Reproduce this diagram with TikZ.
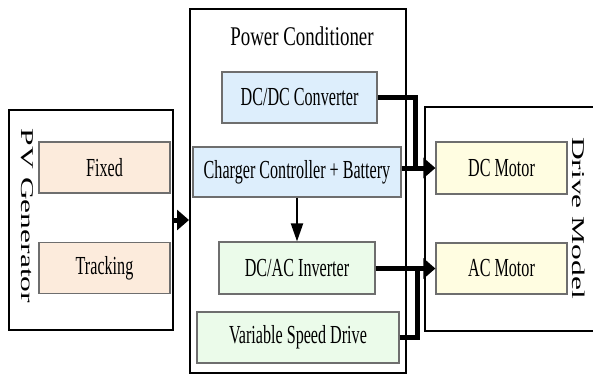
\documentclass[tikz,border=0pt]{standalone}
\usepackage{fontspec}
\setmainfont{Liberation Serif}
\newfontfamily\boxfont[FakeStretch=0.62]{Liberation Serif}
\newfontfamily\titlefont[FakeStretch=0.7]{Liberation Serif}
\newfontfamily\sidefont[FakeStretch=1.75]{Liberation Serif}
\usetikzlibrary{arrows.meta}
\definecolor{pvfill}{HTML}{FCEBDC}
\definecolor{dcfill}{HTML}{DDEEFC}
\definecolor{acfill}{HTML}{EBFBEA}
\definecolor{motorfill}{HTML}{FFFDE1}
\definecolor{boxline}{HTML}{6E6E6E}
\tikzset{
  frame/.style={draw, line width=1pt, inner sep=0pt},
  unit/.style={draw=boxline, line width=0.6pt, inner sep=0pt,
    font=\boxfont\fontsize{13}{15}\selectfont},
  sidelabel/.style={rotate=-90, inner sep=0pt,
    font=\sidefont\fontsize{9}{10}\selectfont},
  link/.style={line width=2.5pt},
  feed/.style={link, -{Triangle[length=6pt,width=10pt]}},
  drop/.style={line width=1pt, -{Triangle[length=9pt,width=6pt]}},
}
\begin{document}
\begin{tikzpicture}[x=0.5pt, y=-0.5pt]
      \useasboundingbox (0,0) rectangle (593,377);
      % Draw the frames
      \node[frame, minimum width=82pt, minimum height=110pt] (pv) at (91,220) {};
      \node[frame, minimum width=108pt, minimum height=182pt] (pc) at (298,191) {};
      \draw[line width=1pt] (593,107) -| (425,331) -- (593,331);
      % Frame labels
      \node[sidelabel] (pvlabel) at (27,216) {PV Generator};
      \node[sidelabel] (dmlabel) at (579,218) {Drive Model};
      \node[font=\titlefont\fontsize{13.5}{15}\selectfont] (pctitle) at (302,36) {Power Conditioner};
      % Place the blocks
      \node[unit, fill=pvfill, minimum width=65.5pt, minimum height=25.5pt] (fixed) at (104.5,167.5) {Fixed};
      \node[unit, fill=pvfill, minimum width=65.5pt, minimum height=25.5pt] (tracking) at (104.5,268) {Tracking};
      \node[unit, fill=dcfill, minimum width=77.5pt, minimum height=25.5pt] (dcdc) at (299.5,97.5) {DC/DC Converter};
      \node[unit, fill=dcfill, minimum width=104pt, minimum height=25pt] (charger) at (297,172) {Charger Controller + Battery};
      \node[unit, fill=acfill, minimum width=78pt, minimum height=26pt] (inverter) at (297,268) {DC/AC Inverter};
      \node[unit, fill=acfill, minimum width=101pt, minimum height=25.5pt] (vsd) at (298,337.5) {Variable Speed Drive};
      \node[unit, fill=motorfill, minimum width=65.5pt, minimum height=26pt] (dcmotor) at (501.5,168) {DC Motor};
      \node[unit, fill=motorfill, minimum width=65.5pt, minimum height=25.5pt] (acmotor) at (501.5,268.5) {AC Motor};
      % Draw arrows
      \coordinate (dcjoin) at (415,168);
      \coordinate (acjoin) at (417,268.5);
      \draw[feed] (pv.east) -- (pv.east -| pc.west);
      \draw[link] (dcdc.east) -| (dcjoin);
      \draw[feed] (charger.east |- dcmotor.west) -- (dcmotor.west);
      \draw[drop] (charger.south) -- (inverter.north);
      \draw[feed] (inverter.east |- acmotor.west) -- (acmotor.west);
      \draw[link] (vsd.east) -| (acjoin);
\end{tikzpicture}
\end{document}
